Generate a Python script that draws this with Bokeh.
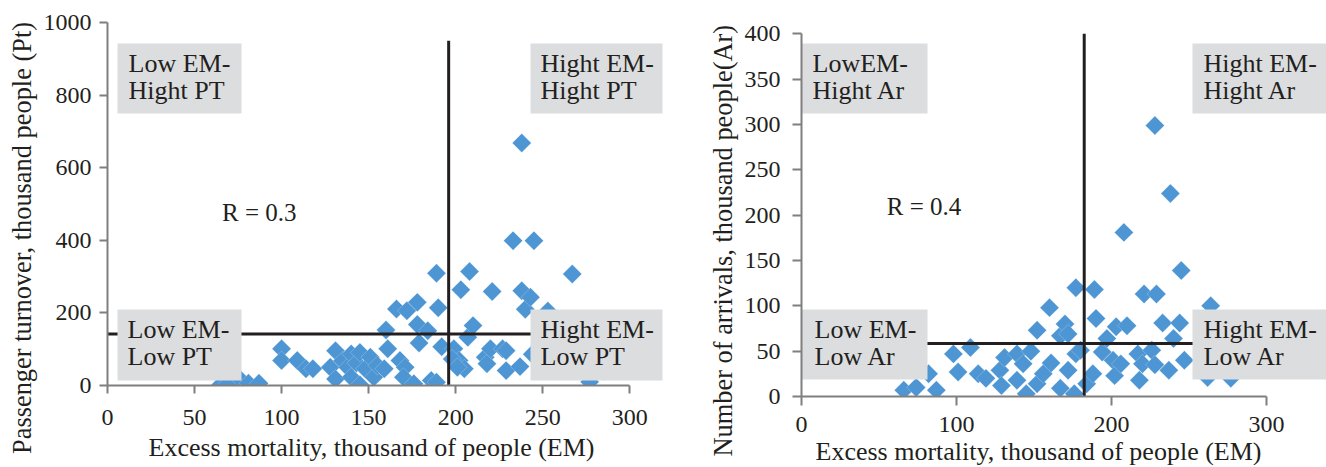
import math
from bokeh.plotting import figure
from bokeh.layouts import row
from bokeh.models import FixedTicker, Range1d, Title
from bokeh.core.properties import value
from bokeh.embed import file_html
from bokeh.resources import INLINE

# ---------------- data ----------------
em_left = [65, 69, 75, 81, 87, 100, 100, 109, 114, 118,
           128, 131, 131, 135, 138, 140, 140, 143, 145, 145, 148, 151, 153, 155, 159, 161, 160,
           166, 168, 171, 170, 172, 176, 178, 178, 179, 184, 186, 189, 189, 190, 192, 199,
           202, 203, 205, 207, 208, 210, 217, 218, 220, 221, 227, 229, 229, 233, 237, 238, 238,
           240, 243, 244, 245, 253, 267, 277, 262, 272, 285, 198, 201]
pt_left = [2, 4, 23, 6, 6, 101, 69, 69, 46, 46,
           50, 96, 18, 68, 50, 23, 87, 62, 91, 2, 46, 78, 23, 55, 46, 101, 153,
           211, 69, 50, 23, 206, 5, 229, 168, 117, 151, 14, 9, 309, 214, 107, 101,
           69, 264, 46, 133, 314, 165, 78, 60, 101, 259, 101, 41, 96, 399, 52, 261, 668,
           210, 243, 86, 399, 205, 307, 10, 60, 120, 40, 73, 50]

em_right = [66, 74, 82, 87, 98, 101, 109, 114, 119,
            128, 129, 131, 139, 139, 143, 145, 148, 152, 152, 156, 160, 161, 167, 167, 170,
            172, 172, 176, 177, 177, 180, 184, 188, 189, 190, 194, 197, 201, 202, 203, 206,
            208, 210, 217, 218, 221, 220, 226, 228, 229, 228, 233, 237, 238, 240, 244, 245,
            247, 262, 264, 277, 270, 280]
ar_right = [7, 10, 25, 7, 47, 27, 54, 25, 20,
            29, 12, 43, 47, 18, 36, 3, 50, 14, 73, 25, 98, 37, 67, 9, 80,
            29, 69, 3, 47, 120, 51, 14, 25, 118, 86, 49, 64, 40, 23, 77, 36,
            181, 78, 47, 18, 113, 36, 51, 35, 113, 299, 81, 29, 224, 64, 81, 139,
            40, 21, 100, 20, 60, 45]

left_x_ticks = [0, 50, 100, 150, 200, 250, 300]
left_y_ticks = [0, 200, 400, 600, 800, 1000]
right_x_ticks = [0, 100, 200, 300]
right_y_ticks = [0, 50, 100, 150, 200, 250, 300, 350, 400]

em_threshold_left = 196
pt_threshold = 142
em_threshold_right = 182.4
ar_threshold = 58.5

r_left = "R = 0.3"
r_right = "R = 0.4"

left_boxes = [["Low EM-", "Hight PT"], ["Low EM-", "Low PT"],
              ["Hight EM-", "Hight PT"], ["Hight EM-", "Low PT"]]
right_boxes = [["LowEM-", "Hight Ar"], ["Low EM-", "Low Ar"],
               ["Hight EM-", "Hight Ar"], ["Hight EM-", "Low Ar"]]

left_xlabel = "Excess mortality, thousand of people (EM)"
left_ylabel = "Passenger turnover, thousand people (Pt)"
right_xlabel = "Excess mortality, thousand of people (EM)"
right_ylabel = "Number of arrivals, thousand people(Ar)"

# ---------------- style ----------------
FONT = "Liberation Serif"
TXT = "#231f20"
AXIS = "#7f7f7f"
BLUE = "#4e96d3"
BOXC = "#dcdddf"
BASE_FIX = 0.35  # empirical shift of the alphabetic baseline (in em)


def converters(frame_left, frame_top, fw, fh, xr, yr):
    kx = fw / (xr[1] - xr[0])
    ky = fh / (yr[1] - yr[0])

    def sx(px):
        return xr[0] + (px - frame_left) / kx

    def sy(py):
        return yr[1] - (py - frame_top) / ky
    return sx, sy


def make_fig(c):
    p = figure(frame_width=c["fw"], frame_height=c["fh"], x_range=Range1d(*c["xr"]),
               y_range=Range1d(*c["yr"]), output_backend="svg", toolbar_location=None,
               min_border_left=c["mbl"], min_border_right=c["mbr"], min_border_top=c["mbt"],
               min_border_bottom=0)
    p.outline_line_color = None
    p.grid.visible = False
    p.background_fill_color = "white"
    p.border_fill_color = "white"
    p.xaxis.ticker = FixedTicker(ticks=c["xticks"], minor_ticks=[])
    p.yaxis.ticker = FixedTicker(ticks=c["yticks"], minor_ticks=[])
    p.xaxis.bounds = (c["xticks"][0], c["xticks"][-1])
    p.yaxis.bounds = (c["yticks"][0], c["yticks"][-1])
    for ax, out, st in ((p.xaxis, c["xto"], c["xst"]), (p.yaxis, c["yto"], c["yst"])):
        ax.axis_line_color = AXIS
        ax.axis_line_width = 2
        ax.major_tick_line_color = AXIS
        ax.major_tick_line_width = 2
        ax.major_tick_out = out
        ax.major_tick_in = 0
        ax.minor_tick_line_color = None
        ax.major_label_text_font = FONT
        ax.major_label_text_font_size = "24px"
        ax.major_label_text_color = TXT
        ax.major_label_standoff = st
    p.add_layout(Title(text=c["xlabel"], align="left", offset=c["xl_off"],
                       standoff=c["xl_st"], text_font=FONT, text_font_size="26px",
                       text_font_style="normal", text_color=TXT), "below")
    p.add_layout(Title(text=c["ylabel"], align="left", offset=c["yl_off"],
                       standoff=c["yl_st"], text_font=FONT, text_font_size="26.4px",
                       text_font_style="normal", text_color=TXT), "left")
    return p


def decorate(p, sx, sy, xs, ys, thr_x, thr_y_top, thr_y, boxes_px, labels, r_txt, r_pos):
    p.scatter(xs, ys, marker="square", size=13.4, angle=math.pi / 4,
              fill_color=BLUE, line_color="white", line_alpha=0.35, line_width=0.6)
    p.segment(x0=[thr_x], y0=[0], x1=[thr_x], y1=[thr_y_top], line_color=TXT, line_width=3)
    p.segment(x0=[0], y0=[thr_y], x1=[300], y1=[thr_y], line_color=TXT, line_width=3)
    lefts, rights, tops, bottoms = [], [], [], []
    tx, ty, tt = [], [], []
    fix26 = BASE_FIX * 26
    for (l, r, t, b, dx), lines in zip(boxes_px, labels):
        lefts.append(sx(l)); rights.append(sx(r)); tops.append(sy(t)); bottoms.append(sy(b))
        tx += [sx(l + dx), sx(l + dx)]
        ty += [sy(t + 29 - fix26), sy(t + 56.5 - fix26)]
        tt += lines
    p.quad(left=lefts, right=rights, top=tops, bottom=bottoms, fill_color=BOXC, line_color=None)
    p.text(x=tx, y=ty, text=tt, text_font=value(FONT), text_font_size=value("26px"),
           text_color=TXT, text_baseline="alphabetic", text_align="left")
    p.text(x=[sx(r_pos[0])], y=[sy(r_pos[1] - BASE_FIX * 25)], text=[r_txt],
           text_font=value(FONT), text_font_size=value("25px"), text_color=TXT,
           text_baseline="alphabetic", text_align="left")


# ---------------- left chart ----------------
L = dict(fw=557, fh=363, xr=(0, 320), yr=(0, 1000), mbl=107, mbr=38, mbt=22,
         xticks=left_x_ticks, yticks=left_y_ticks, xto=8, yto=8, xst=16, yst=8,
         xlabel=left_xlabel, ylabel=left_ylabel, xl_off=41, xl_st=6, yl_off=-68.5, yl_st=7)
p1 = make_fig(L)
sx1, sy1 = converters(L["mbl"], L["mbt"], L["fw"], L["fh"], L["xr"], L["yr"])
left_boxes_px = [(117, 241, 43, 113, 11), (117, 241, 309, 380, 10),
                 (530, 662, 43, 113, 10), (530, 662, 309, 380, 10)]
decorate(p1, sx1, sy1, em_left, pt_left, em_threshold_left, 950, pt_threshold,
         left_boxes_px, left_boxes, r_left, (221.5, 220.7))

# ---------------- right chart ----------------
R = dict(fw=527, fh=374, xr=(0, 340), yr=(0, 412.5), mbl=96, mbr=0, mbt=22,
         xticks=right_x_ticks, yticks=right_y_ticks, xto=9, yto=9, xst=11, yst=12,
         xlabel=right_xlabel, ylabel=right_ylabel, xl_off=14, xl_st=0, yl_off=-60, yl_st=7)
p2 = make_fig(R)
x0_right = L["mbl"] + L["fw"] + L["mbr"]
sx2, sy2 = converters(x0_right + R["mbl"], R["mbt"], R["fw"], R["fh"], R["xr"], R["yr"])
right_boxes_px = [(796, 924, 43, 113, 13), (797, 924, 309, 379, 14),
                  (1189, 1330, 43, 113, 11), (1189, 1330, 309, 379, 11)]
decorate(p2, sx2, sy2, em_right, ar_right, em_threshold_right, 400, ar_threshold,
         right_boxes_px, right_boxes, r_right, (883.3, 215))

layout = row(p1, p2)
open("out.html", "w").write(file_html(layout, INLINE))
